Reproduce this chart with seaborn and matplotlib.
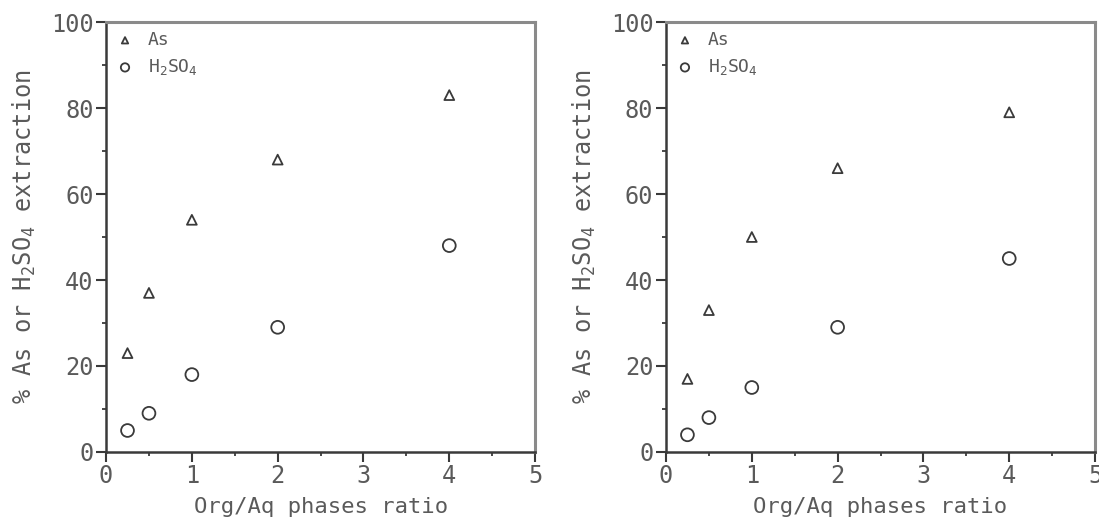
import matplotlib
matplotlib.use("Agg")
import matplotlib.pyplot as plt
import pandas as pd
import seaborn as sns
from matplotlib.ticker import MultipleLocator

ratio = [0.25, 0.5, 1, 2, 4]
as_left = [23, 37, 54, 68, 83]
acid_left = [5, 9, 18, 29, 48]
as_right = [17, 33, 50, 66, 79]
acid_right = [4, 8, 15, 29, 45]

sns.set_style("white")
plt.rcParams["font.family"] = ["DejaVu Sans Mono", "DejaVu Sans"]
plt.rcParams["mathtext.fontset"] = "custom"
plt.rcParams["mathtext.rm"] = "DejaVu Sans Mono"
plt.rcParams["mathtext.default"] = "regular"

text_color = "#5a5a5a"
ink = "#3a3a3a"

fig = plt.figure(figsize=(10.99, 5.19), dpi=100)
ax_left = fig.add_axes([0.0965, 0.1291, 0.3904, 0.8285])
ax_right = fig.add_axes([0.6060, 0.1291, 0.3904, 0.8285])


def draw_panel(ax, as_vals, acid_vals):
    df = pd.DataFrame({"ratio": ratio, "As": as_vals, "H2SO4": acid_vals})
    sns.scatterplot(
        data=df, x="ratio", y="As", marker="^", s=50, ax=ax,
        facecolor="none", edgecolor=ink, linewidth=1.3, label="As",
    )
    sns.scatterplot(
        data=df, x="ratio", y="H2SO4", marker="o", s=85, ax=ax,
        facecolor="none", edgecolor=ink, linewidth=1.3,
        label="H$_2$SO$_4$",
    )
    ax.set_xlim(0, 5)
    ax.set_ylim(0, 100)
    ax.xaxis.set_major_locator(MultipleLocator(1))
    ax.xaxis.set_minor_locator(MultipleLocator(0.5))
    ax.yaxis.set_major_locator(MultipleLocator(20))
    ax.yaxis.set_minor_locator(MultipleLocator(10))
    ax.tick_params(which="major", direction="out", length=7, width=1.5,
                   color=ink, labelsize=17, labelcolor=text_color, pad=2,
                   bottom=True, left=True)
    ax.tick_params(which="minor", direction="out", length=3, width=1.3,
                   color=ink, bottom=True, left=True)
    for side in ["left", "bottom"]:
        ax.spines[side].set_color(ink)
        ax.spines[side].set_linewidth(1.8)
    for side in ["top", "right"]:
        ax.spines[side].set_color("#8a8a8a")
        ax.spines[side].set_linewidth(2.2)
    ax.set_xlabel("Org/Aq phases ratio", fontsize=16, color=text_color,
                  labelpad=6)
    ax.set_ylabel("% As or H$_2$SO$_4$ extraction", fontsize=17,
                  color=text_color, labelpad=9)
    ax.legend(loc="upper left", frameon=False, fontsize=13,
              labelcolor=text_color, handletextpad=0.7, borderaxespad=0.2,
              borderpad=0.3, handlelength=1.1, labelspacing=0.45,
              markerscale=0.65)


draw_panel(ax_left, as_left, acid_left)
draw_panel(ax_right, as_right, acid_right)

fig.savefig("out.png", dpi=100)
plt.close(fig)
